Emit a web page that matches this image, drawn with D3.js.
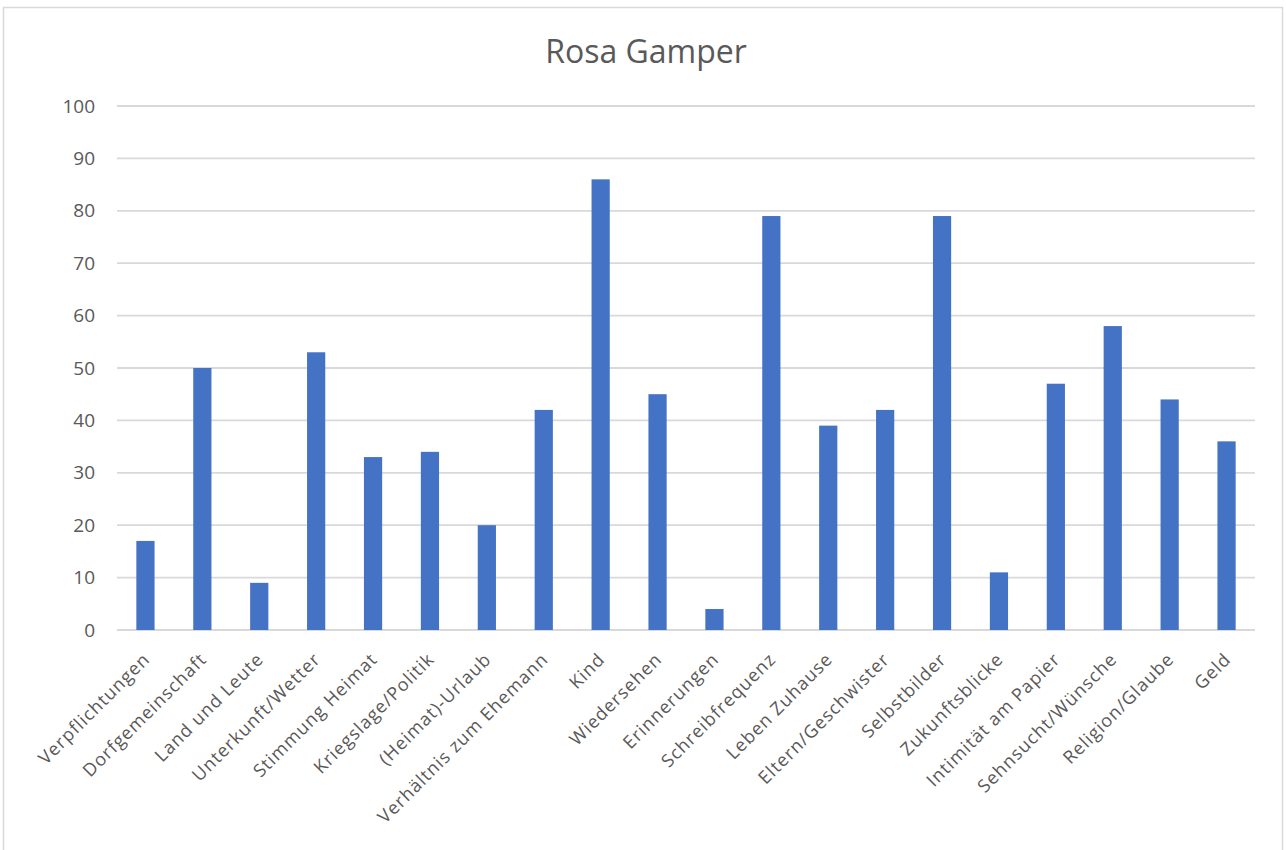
<!DOCTYPE html>
<html>
<head>
<meta charset="utf-8">
<script src="https://cdn.jsdelivr.net/npm/d3@7"></script>
<style>
    body { margin: 0; background: #fff; }
    text { font-family: "Open Sans", sans-serif; fill: #595959; }
</style>
</head>
<body>
<div id="chart"></div>
<script>
// Data
const categories = ["Verpflichtungen", "Dorfgemeinschaft", "Land und Leute", "Unterkunft/Wetter",
    "Stimmung Heimat", "Kriegslage/Politik", "(Heimat)-Urlaub", "Verhältnis zum Ehemann", "Kind",
    "Wiedersehen", "Erinnerungen", "Schreibfrequenz", "Leben Zuhause", "Eltern/Geschwister",
    "Selbstbilder", "Zukunftsblicke", "Intimität am Papier", "Sehnsucht/Wünsche", "Religion/Glaube", "Geld"];
const values = [17, 50, 9, 53, 33, 34, 20, 42, 86, 45, 4, 79, 39, 42, 79, 11, 47, 58, 44, 36];
const yTicks = [0, 10, 20, 30, 40, 50, 60, 70, 80, 90, 100];
const chartTitle = "Rosa Gamper";

const width = 1286;
const height = 850;
const margin = {top: 106, left: 117, right: 31, bottom: 220};

const data = categories.map(function(c, i) { return {name: c, value: values[i]}; });

let svg = d3.select("#chart")
    .append("svg")
    .attr("width", width)
    .attr("height", height);

// outer frame
svg.append("rect")
    .attr("x", 3.5)
    .attr("y", 7.5)
    .attr("width", 1279)
    .attr("height", 860)
    .attr("fill", "#fff")
    .attr("stroke", "#d9d9d9")
    .attr("stroke-width", 1.5);

// Scales
let yScale = d3.scaleLinear()
    .domain([0, 100])
    .range([height - margin.bottom, margin.top]);

let xScale = d3.scaleBand()
    .domain(categories)
    .range([margin.left, width - margin.right])
    .paddingInner(0.68)
    .paddingOuter(0.34);

// Gridlines
svg.append("g")
    .selectAll("line")
    .data(yTicks)
    .enter()
    .append("line")
        .attr("x1", margin.left)
        .attr("x2", width - margin.right)
        .attr("y1", function(d) { return yScale(d); })
        .attr("y2", function(d) { return yScale(d); })
        .attr("stroke", "#d9d9d9")
        .attr("stroke-width", 1.8);

// Y axis labels
const yAxis = svg.append("g")
    .attr("transform", `translate(${margin.left - 22},0)`)
    .call(d3.axisLeft(yScale).tickValues(yTicks).tickSize(0).tickPadding(0));
yAxis.select(".domain").remove();
yAxis.selectAll("text")
    .attr("font-size", 19)
    .attr("font-family", "Open Sans, sans-serif")
    .style("fill", "#595959");

// Bars
svg.selectAll(".bar")
    .data(data)
    .enter()
    .append("rect")
        .attr("class", "bar")
        .attr("x", function(d) { return xScale(d.name); })
        .attr("y", function(d) { return yScale(d.value); })
        .attr("width", xScale.bandwidth())
        .attr("height", function(d) { return yScale(0) - yScale(d.value); })
        .attr("fill", "#4472c4");

// X axis labels
const xAxis = svg.append("g")
    .attr("transform", `translate(0,${height - margin.bottom})`)
    .call(d3.axisBottom(xScale).tickSize(0).tickPadding(0));
xAxis.select(".domain").remove();
xAxis.selectAll("text")
    .attr("font-size", 18)
    .attr("font-family", "Open Sans, sans-serif")
    .style("fill", "#595959")
    .style("letter-spacing", "1px")
    .style("text-anchor", "end")
    .attr("dy", "0.35em")
    .attr("y", 0)
    .attr("transform", "translate(1,26) rotate(-45)");

// Title
svg.append("text")
    .attr("x", 646)
    .attr("y", 63)
    .attr("text-anchor", "middle")
    .attr("font-size", 32)
    .text(chartTitle);
</script>
</body>
</html>
